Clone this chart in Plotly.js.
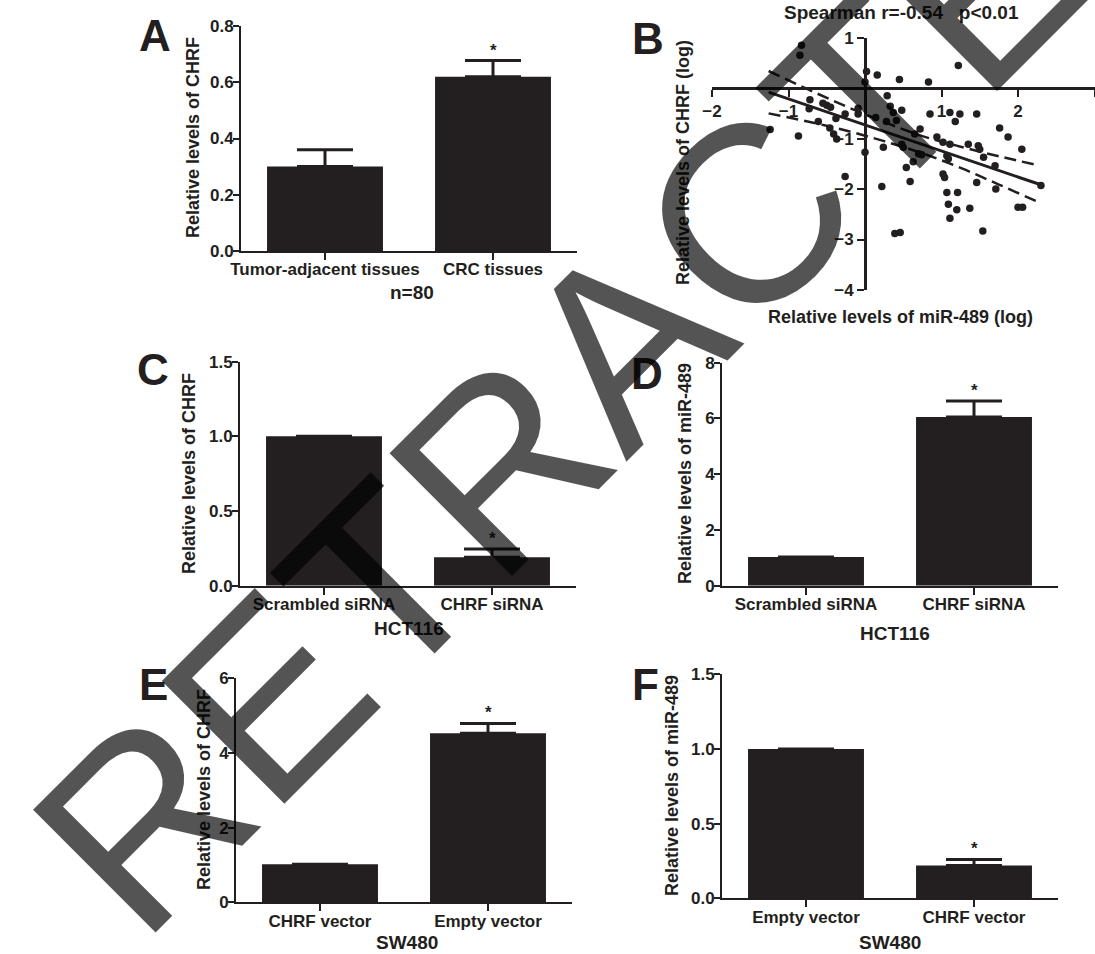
<!DOCTYPE html>
<html><head><meta charset="utf-8">
<script src="https://cdn.plot.ly/plotly-3.0.1.min.js"></script>
<style>html,body{margin:0;padding:0;background:#fff;}#chart{width:1095px;height:954px;}</style>
</head><body><div id="chart"></div>
<script>
// ---------------- data ----------------
const catA = ['Tumor-adjacent tissues', 'CRC tissues'];
const valA = [0.30, 0.62];
const errA = [0.06, 0.057];
const sigA = ['', '*'];

const catC = ['Scrambled siRNA', 'CHRF siRNA'];
const valC = [1.00, 0.19];
const errC = [null, 0.055];
const sigC = ['', '*'];

const catD = ['Scrambled siRNA', 'CHRF siRNA'];
const valD = [1.03, 6.05];
const errD = [null, 0.58];
const sigD = ['', '*'];

const catE = ['CHRF vector', 'Empty vector'];
const valE = [1.02, 4.53];
const errE = [null, 0.26];
const sigE = ['', '*'];

const catF = ['Empty vector', 'CHRF vector'];
const valF = [1.00, 0.22];
const errF = [null, 0.04];
const sigF = ['', '*'];

// panel B: relative levels (log)
const mirLog = [-0.83,-0.85,1.22,0.02,0.16,0.00,0.45,0.83,0.29,-0.72,-0.50,-0.55,-0.45,-0.73,-0.26,-0.09,-0.09,0.33,0.37,0.48,0.85,1.11,1.24,1.46,1.18,0.14,0.28,0.41,-0.61,-0.38,-1.24,-0.87,-0.46,-0.41,-0.37,0.72,0.65,0.94,1.02,1.11,1.35,1.48,1.50,1.76,1.87,2.05,0.24,0.48,0.50,0.70,0.74,0.63,0.54,0.00,1.07,1.09,1.55,1.70,1.02,1.04,-0.26,0.59,1.46,0.22,1.07,1.21,1.71,1.09,1.20,1.37,1.11,2.00,2.06,2.30,0.39,0.46,1.54];
const chrfLog = [0.85,0.65,0.45,0.33,0.26,0.12,0.17,0.12,-0.15,-0.23,-0.34,-0.30,-0.38,-0.41,-0.51,-0.40,-0.51,-0.36,-0.48,-0.44,-0.51,-0.48,-0.51,-0.51,-0.66,-0.58,-0.66,-0.64,-0.66,-0.60,-0.82,-0.95,-0.79,-0.91,-1.01,-0.81,-0.91,-0.97,-1.07,-1.11,-1.11,-1.14,-1.21,-0.79,-0.97,-1.21,-1.17,-1.11,-1.17,-1.30,-1.32,-1.46,-1.57,-1.27,-1.34,-1.40,-1.37,-1.54,-1.70,-1.77,-1.75,-1.85,-1.87,-1.95,-2.07,-2.07,-2.00,-2.30,-2.41,-2.38,-2.58,-2.36,-2.36,-1.93,-2.88,-2.86,-2.83];
const fitX = [-1.26, 2.31];
const fitY = [-0.08, -1.92];
const bandX = [-1.26, -0.75, -0.25, 0.25, 0.75, 1.25, 1.75, 2.24];
const bandUpper = [0.34, -0.02, -0.36, -0.67, -0.95, -1.16, -1.35, -1.52];
const bandLower = [-0.50, -0.66, -0.84, -1.05, -1.29, -1.58, -1.91, -2.24];

const ticksA = [0, 0.2, 0.4, 0.6, 0.8];
const ticksC = [0, 0.5, 1.0, 1.5];
const ticksD = [0, 2, 4, 6, 8];
const ticksE = [0, 2, 4, 6];
const ticksF = [0, 0.5, 1.0, 1.5];
const ticksBx = [-2, -1, 1, 2, 3];
const ticksBy = [1, -1, -2, -3, -4];

// ---------------- styling / layout ----------------
const W = 1095, H = 954;
const ink = '#231f20';
const fam = '"Liberation Sans", Arial, Helvetica, sans-serif';
const px = v => v / W;
const py = v => 1 - v / H;

const G = {
  A: {x0: 241, x1: 577, yT: 26, yB: 251},
  B: {x0: 712, x1: 1094.5, yT: 37.7, yB: 290},
  C: {x0: 240, x1: 576, yT: 361.7, yB: 585.7},
  D: {x0: 722, x1: 1058, yT: 362.7, yB: 585.7},
  E: {x0: 236, x1: 572, yT: 678.3, yB: 902.3},
  F: {x0: 722, x1: 1058, yT: 674.3, yB: 898.3}
};

const tickFont = {family: fam, size: 17, color: ink, weight: 'bold'};
function baseAxis(extra) {
  return Object.assign({
    showline: true, linecolor: ink, linewidth: 2,
    ticks: 'outside', ticklen: 7, tickwidth: 2, tickcolor: ink,
    showgrid: false, zeroline: false, tickfont: tickFont, fixedrange: true
  }, extra);
}

const traces = [];
const layout = {
  width: W, height: H, margin: {l: 0, r: 0, t: 0, b: 0},
  paper_bgcolor: '#fff', plot_bgcolor: 'rgba(0,0,0,0)',
  showlegend: false, annotations: []
};

function barPanel(key, idx, cats, vals, errs, sigs, ticks, fmt) {
  const g = G[key];
  const xa = 'xaxis' + (idx === 1 ? '' : idx), ya = 'yaxis' + (idx === 1 ? '' : idx);
  const xr = 'x' + (idx === 1 ? '' : idx), yr = 'y' + (idx === 1 ? '' : idx);
  traces.push({
    type: 'bar', x: cats, y: vals, xaxis: xr, yaxis: yr, width: 0.69,
    marker: {color: ink, line: {width: 0}},
    error_y: {type: 'data', symmetric: false, array: errs,
      arrayminus: errs.map(e => e == null ? null : 0),
      color: ink, thickness: 3, width: 28},
    hoverinfo: 'skip'
  });
  layout[xa] = baseAxis({type: 'category', domain: [px(g.x0), px(g.x1)], range: [-0.5, 1.5],
    anchor: yr, ticklabelstandoff: -5});
  layout[ya] = baseAxis({domain: [py(g.yB), py(g.yT)], range: [ticks[0], ticks[ticks.length - 1]],
    tickvals: ticks, tickformat: fmt, anchor: xr, ticklen: 6, ticklabelstandoff: -4});
  cats.forEach((c, i) => {
    if (sigs[i]) layout.annotations.push({
      xref: xr, yref: yr, x: c, y: vals[i] + (errs[i] || 0), text: sigs[i],
      showarrow: false, yanchor: 'bottom', xanchor: 'center', yshift: -1,
      font: {family: fam, size: 17, color: ink, weight: 'bold'}
    });
  });
}

barPanel('A', 1, catA, valA, errA, sigA, ticksA, '.1f');
barPanel('C', 3, catC, valC, errC, sigC, ticksC, '.1f');
barPanel('D', 4, catD, valD, errD, sigD, ticksD, 'd');
barPanel('E', 5, catE, valE, errE, sigE, ticksE, 'd');
barPanel('F', 6, catF, valF, errF, sigF, ticksF, '.1f');

// panel B scatter with crossed axes
const gB = G.B;
traces.push({type: 'scatter', mode: 'lines', x: bandX, y: bandUpper, xaxis: 'x2', yaxis: 'y2',
  line: {color: ink, width: 2.5, dash: '12px,6px', shape: 'spline'}, hoverinfo: 'skip'});
traces.push({type: 'scatter', mode: 'lines', x: bandX, y: bandLower, xaxis: 'x2', yaxis: 'y2',
  line: {color: ink, width: 2.5, dash: '12px,6px', shape: 'spline'}, hoverinfo: 'skip'});
traces.push({type: 'scatter', mode: 'lines', x: fitX, y: fitY, xaxis: 'x2', yaxis: 'y2',
  line: {color: ink, width: 3}, hoverinfo: 'skip'});
traces.push({type: 'scatter', mode: 'markers', x: mirLog, y: chrfLog, xaxis: 'x2', yaxis: 'y2',
  marker: {color: ink, size: 7.5, line: {width: 0}}, cliponaxis: false, hoverinfo: 'skip'});
const yZeroPx = gB.yT + (gB.yB - gB.yT) * (1 - 0) / 5; // y=0 within [1,-4]
const xZeroPx = gB.x0 + (gB.x1 - gB.x0) * 2 / 5;       // x=0 within [-2,3]
layout.xaxis2 = baseAxis({domain: [px(gB.x0), px(gB.x1)], range: [-2, 3], tickvals: ticksBx,
  anchor: 'free', position: py(yZeroPx), linewidth: 2.5});
layout.yaxis2 = baseAxis({domain: [py(gB.yB), py(gB.yT)], range: [-4, 1], tickvals: ticksBy,
  anchor: 'free', position: px(xZeroPx), linewidth: 2.5});

// ---------------- text ----------------
function txt(t, x, y, size, angle) {
  layout.annotations.push({xref: 'paper', yref: 'paper', x: px(x), y: py(y), text: t,
    showarrow: false, xanchor: 'center', yanchor: 'middle', textangle: angle || 0,
    font: {family: fam, size: size, color: ink, weight: 'bold'}});
}
// panel letters
txt('A', 155, 36, 44); txt('B', 648, 39, 44); txt('C', 153, 369, 44);
txt('D', 647, 373, 44); txt('E', 153, 684, 44); txt('F', 646, 684, 44);
// y titles
txt('Relative levels of CHRF', 193, 138, 18, -90);
txt('Relative levels of CHRF (log)', 683, 163, 18, -90);
txt('Relative levels of CHRF', 189, 474, 18, -90);
txt('Relative levels of miR-489', 685, 474, 18, -90);
txt('Relative levels of CHRF', 204, 790, 18, -90);
txt('Relative levels of miR-489', 672, 786, 18, -90);
// x titles
txt('n=80', 412, 292, 19);
txt('Relative levels of miR-489 (log)', 900, 317, 18);
txt('HCT116', 409, 628, 19);
txt('HCT116', 895, 633, 19);
txt('SW480', 407, 942, 19);
txt('SW480', 890, 942, 19);
txt('Spearman r=-0.54\u00a0\u00a0\u00a0p<0.01', 901, 13, 19);

// watermark
layout.annotations.push({xref: 'paper', yref: 'paper', x: px(624), y: py(341), text: 'RETRACTED',
  showarrow: false, xanchor: 'center', yanchor: 'middle', textangle: -45,
  font: {family: fam, size: 252, color: 'rgba(0,0,0,0.67)', weight: 'normal'}});

Plotly.newPlot('chart', traces, layout, {staticPlot: true, displayModeBar: false});
</script>
</body></html>
